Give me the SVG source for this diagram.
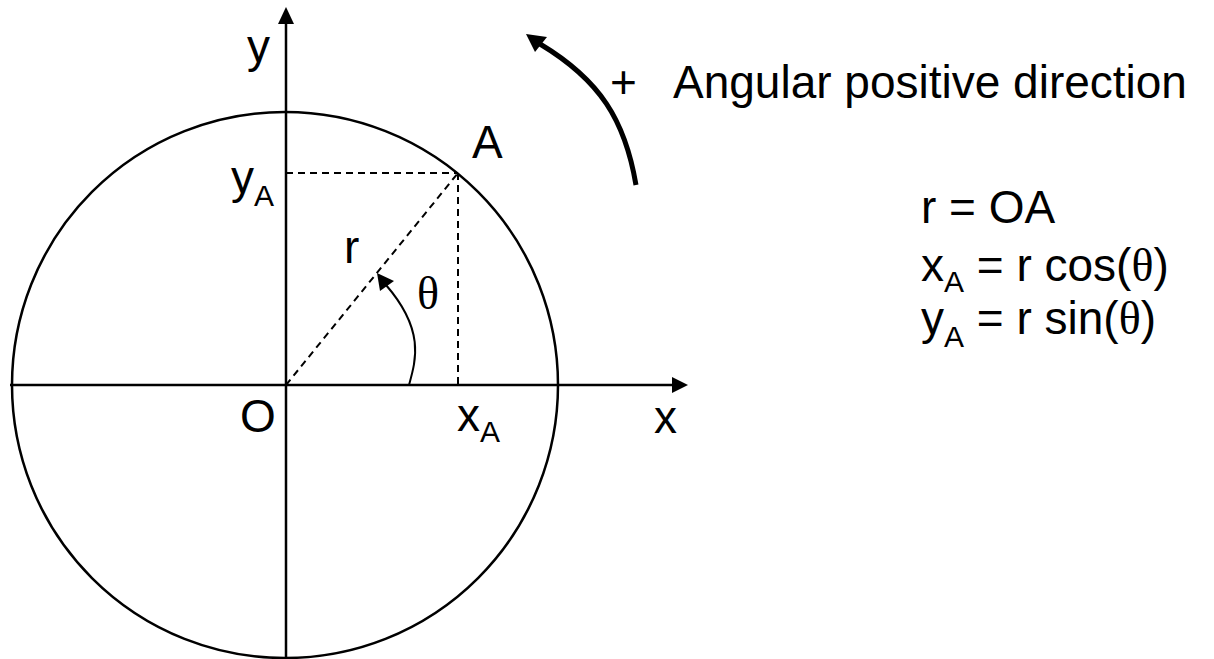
<svg xmlns="http://www.w3.org/2000/svg" width="1214" height="659" viewBox="0 0 1214 659">
<style>
.t{font-family:"Liberation Sans",Arial,sans-serif;font-size:46px;fill:#000}
.sub{font-size:30px}
.th{font-family:"Liberation Serif","Times New Roman",serif}
.solid{fill:none;stroke:#000;stroke-width:2.5}
.dash{fill:none;stroke:#000;stroke-width:2;stroke-dasharray:7 5}
</style>
<rect width="1214" height="659" fill="#fff"/>
<g id="circle"><circle cx="285" cy="385" r="273" class="solid"/></g>
<g id="connectors">
<line x1="286" y1="659" x2="286" y2="20" class="solid"/>
<polygon points="286,7 278,24 294,24" fill="#000"/>
<line x1="10" y1="385" x2="676" y2="385" class="solid"/>
<polygon points="688,385 672,377 672,393" fill="#000"/>
<line x1="286" y1="173" x2="458" y2="173" class="dash"/>
<line x1="458" y1="173" x2="458" y2="385" class="dash"/>
<line x1="286" y1="385" x2="458" y2="173" class="dash"/>
<path d="M409,385 C416,360 425,330 386,285" fill="none" stroke="#000" stroke-width="2"/>
<polygon points="377,273 380,291 394,281" fill="#000"/>
<path d="M636,185 C625,120 600,80 540,44" fill="none" stroke="#000" stroke-width="5"/>
<polygon points="526,34 535,52 547,37" fill="#000"/>
</g>
<g id="labels">
<text class="t" x="247" y="62">y</text>
<text class="t" x="240" y="432">O</text>
<text class="t" x="654" y="433">x</text>
<text class="t" x="472" y="158">A</text>
<text class="t" x="344" y="263">r</text>
<text class="t th" x="417" y="309">θ</text>
<text class="t" x="231" y="193">y<tspan class="sub" dy="13">A</tspan></text>
<text class="t" x="457" y="431">x<tspan class="sub" dy="11">A</tspan></text>
<text class="t" x="610" y="98">+</text>
<text class="t" x="673" y="98">Angular positive direction</text>
</g>
<g id="formulas">
<text class="t" x="921" y="223">r = OA</text>
<text class="t" x="921" y="281">x<tspan class="sub" dy="11">A</tspan><tspan dy="-11"> = r cos(</tspan><tspan class="th">θ</tspan>)</text>
<text class="t" x="921" y="334">y<tspan class="sub" dy="13">A</tspan><tspan dy="-13"> = r sin(</tspan><tspan class="th">θ</tspan>)</text>
</g>
</svg>
